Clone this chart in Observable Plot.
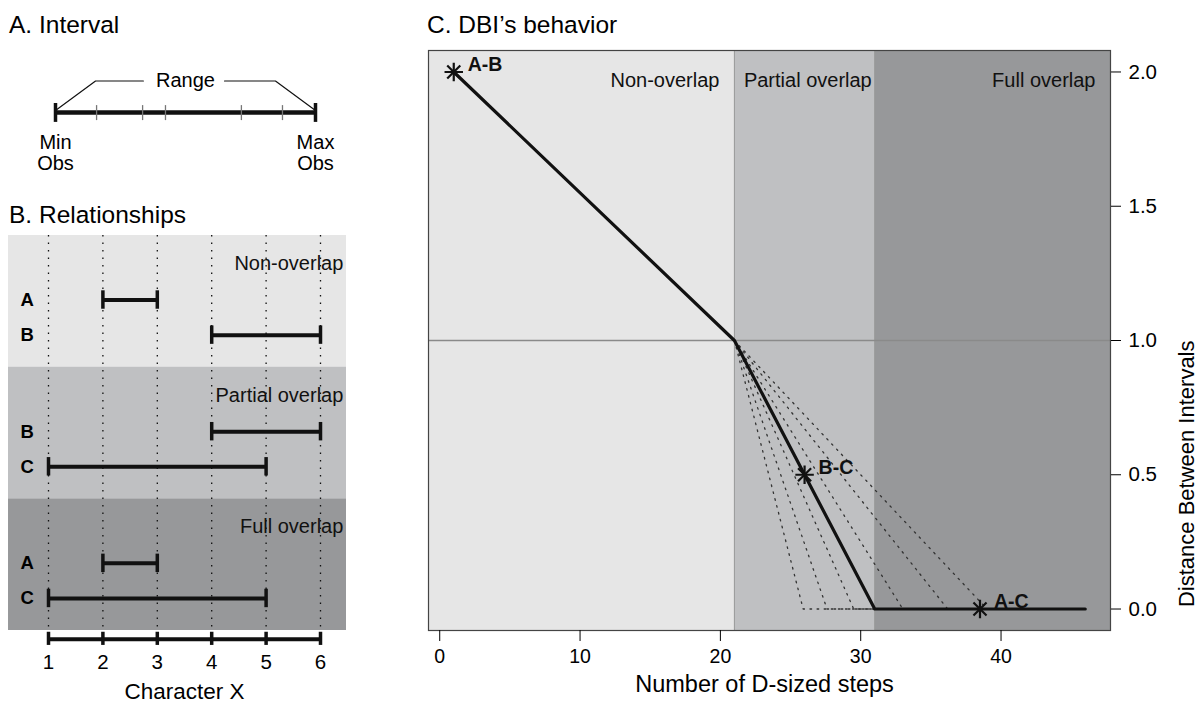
<!DOCTYPE html>
<html><head><meta charset="utf-8">
<script src="https://cdn.jsdelivr.net/npm/d3@7"></script>
<script src="https://cdn.jsdelivr.net/npm/@observablehq/plot@0.6"></script>
<style>
body{margin:0;background:#fff;}
#fig{position:relative;width:1201px;height:703px;font-family:"Liberation Sans",Arial,Helvetica,sans-serif;color:#000;overflow:hidden;background:#fff}
.t{position:absolute;font-size:24.5px;line-height:24px;white-space:nowrap}
.p{position:absolute}
</style></head><body>
<div id="fig">
  <div class="t" style="left:9px;top:13px">A. Interval</div>
  <div class="t" style="left:9px;top:203px">B. Relationships</div>
  <div class="t" style="left:427px;top:13px">C. DBI’s behavior</div>
  <div class="p" id="pa" style="left:0;top:40px"></div>
  <div class="p" id="pb" style="left:0;top:230px"></div>
  <div class="p" id="pc" style="left:400px;top:40px"></div>
</div>
<script>
// ---------- Panel A data ----------
const obsValues = [0, 1.58, 3.35, 4.23, 7.15, 8.73, 10];
const endLabels = ["Min\nObs", "Max\nObs"];
const rangeLabel = "Range";

// ---------- Panel B data ----------
const charTicks = [1, 2, 3, 4, 5, 6];
const intervalNames = ["A", "B", "C"];
const intervalMin = [2, 4, 1];
const intervalMax = [3, 6, 5];
const relations = ["Non-overlap", "Partial overlap", "Full overlap"];
const relationPairs = [["A", "B"], ["B", "C"], ["A", "C"]];
const shades = ["#e6e6e6", "#bfc0c2", "#97989a"];

// ---------- Panel C data ----------
const regionBreaks = [21, 31];
const stepsX = [1, 21, 31, 46];
const dbiY = [2, 1, 0, 0];
const pairLabels = ["A-B", "B-C", "A-C"];
const pairSteps = [1, 26, 38.5];
const pairDbi = [2, 0.5, 0];
const altEnds = [25.9, 27.6, 29.5, 33.0, 36.2, 39.0];
const xTicks = [0, 10, 20, 30, 40];
const yTicks = [0, 0.5, 1, 1.5, 2];
const xTitle = "Number of D-sized steps";
const yTitle = "Distance Between Intervals";

const FONT = '"Liberation Sans", Arial, Helvetica, sans-serif';
const baseStyle = {fontFamily: FONT, background: "none", overflow: "visible", color: "#000"};

// ================= Panel A =================
{
  const lo = d3.min(obsValues), hi = d3.max(obsValues), mid = (lo + hi) / 2;
  const top = 1.05, foot = 0.07;
  const leftBracket = [{x: lo, y: foot}, {x: lo + 1.54, y: top}, {x: mid - 1.62, y: top}];
  const rightBracket = [{x: mid + 1.5, y: top}, {x: hi - 1.54, y: top}, {x: hi, y: foot}];
  const pa = Plot.plot({
    width: 380, height: 140, style: baseStyle,
    x: {domain: [lo, hi], range: [55, 315], axis: null},
    y: {domain: [-2, 2], range: [132, 12], axis: null},
    marks: [
      Plot.line(leftBracket, {x: "x", y: "y", stroke: "#111", strokeWidth: 1.2}),
      Plot.line(rightBracket, {x: "x", y: "y", stroke: "#111", strokeWidth: 1.2}),
      Plot.text([rangeLabel], {x: mid, y: top, text: d => d, fontSize: 20}),
      Plot.ruleY([0], {x1: lo, x2: hi, stroke: "#111", strokeWidth: 4.5}),
      Plot.ruleX(obsValues.slice(1, -1), {y1: 0.23, y2: -0.27, stroke: "#777", strokeWidth: 1.3}),
      Plot.ruleX([lo, hi], {y1: 0.3, y2: -0.33, stroke: "#111", strokeWidth: 3.5}),
      Plot.text(endLabels, {x: [lo, hi], y: -1.35, text: d => d, fontSize: 20, lineHeight: 1.05})
    ]
  });
  document.getElementById("pa").append(pa);
}

// ================= Panel B =================
{
  const bandH = 3;
  const bands = relations.map((r, i) => ({r, y1: i * bandH, y2: (i + 1) * bandH, fill: shades[i]}));
  const rows = relations.flatMap((r, i) => relationPairs[i].map((n, j) => {
    const k = intervalNames.indexOf(n);
    return {n, lo: intervalMin[k], hi: intervalMax[k], y: i * bandH + 1.47 + j * 0.8};
  }));
  const caps = rows.flatMap(d => [{x: d.lo, y: d.y}, {x: d.hi, y: d.y}]);
  const axisY = 9.2;
  const pb = Plot.plot({
    width: 380, height: 473, style: baseStyle,
    x: {domain: [1, 6], range: [48, 320], axis: null},
    y: {domain: [0, 9], range: [5, 400], axis: null},
    color: {type: "identity"},
    marks: [
      Plot.rect(bands, {x1: 0.265, x2: 6.478, y1: "y1", y2: "y2", fill: "fill"}),
      Plot.ruleX(charTicks, {y1: 0, y2: 9, stroke: "#111", strokeWidth: 1.3, strokeDasharray: "1.5,6"}),
      Plot.ruleY(rows, {x1: "lo", x2: "hi", y: "y", stroke: "#111", strokeWidth: 4}),
      Plot.ruleX(caps, {x: "x", y1: d => d.y - 0.21, y2: d => d.y + 0.21, stroke: "#111", strokeWidth: 3.5}),
      Plot.text(rows, {x: 0.61, y: "y", text: "n", fontWeight: "bold", fontSize: 18.5}),
      Plot.text(bands, {x: 6.42, y: d => d.y1 + 0.64, text: "r", textAnchor: "end", fontSize: 20, fill: "#111"}),
      Plot.ruleY([axisY], {x1: d3.min(charTicks), x2: d3.max(charTicks), stroke: "#111", strokeWidth: 4}),
      Plot.ruleX(charTicks, {y1: axisY - 0.16, y2: axisY + 0.14, stroke: "#111", strokeWidth: 3.5}),
      Plot.text(charTicks, {x: d => d, y: axisY, dy: 23, text: d => String(d), fontSize: 20.5}),
      Plot.text(["Character X"], {x: d3.mean(d3.extent(charTicks)), y: axisY, dy: 53, text: d => d, fontSize: 22.5})
    ]
  });
  document.getElementById("pb").append(pb);
}

// ================= Panel C =================
{
  const xDomain = [-0.8, 47.8], yDomain = [-0.08, 2.08];
  const W = 801, H = 663, mL = 28, mR = 91, mT = 10, mB = 73;
  const pxPerUnit = (W - mL - mR) / (xDomain[1] - xDomain[0]);
  const edges = [xDomain[0], ...regionBreaks, xDomain[1]];
  const labelInset = [15, 3, 15];
  const regions = relations.map((r, i) => ({r, x1: edges[i], x2: edges[i + 1], fill: shades[i], lx: edges[i + 1] - labelInset[i] / pxPerUnit}));
  const fork = {x: stepsX[1], y: dbiY[1]}, join = stepsX[2];
  const alt = altEnds.flatMap((e, i) => e < join
    ? [{i, x: fork.x, y: fork.y}, {i, x: e, y: 0}, {i, x: join, y: 0}]
    : [{i, x: fork.x, y: fork.y}, {i, x: e, y: 0}]);
  const main = stepsX.map((x, i) => ({x, y: dbiY[i]}));
  const pairs = pairLabels.map((l, i) => ({l, x: pairSteps[i], y: pairDbi[i]}));
  const pc = Plot.plot({
    width: W, height: H, marginLeft: mL, marginRight: mR, marginTop: mT, marginBottom: mB,
    style: baseStyle,
    x: {domain: xDomain, axis: null},
    y: {domain: yDomain, axis: null},
    color: {type: "identity"},
    marks: [
      Plot.rect(regions, {x1: "x1", x2: "x2", fill: "fill"}),
      Plot.ruleX(regionBreaks, {stroke: "#9a9a9a", strokeWidth: 1}),
      Plot.ruleY([fork.y], {stroke: "#8a8a8a", strokeWidth: 1.5}),
      Plot.line(alt, {x: "x", y: "y", z: "i", stroke: "#333", strokeWidth: 1.3, strokeDasharray: "1.6,5.5"}),
      Plot.line(main, {x: "x", y: "y", stroke: "#111", strokeWidth: 3.2}),
      Plot.dot(pairs, {x: "x", y: "y", symbol: "plus", r: 6, stroke: "#111", strokeWidth: 2.2}),
      Plot.dot(pairs, {x: "x", y: "y", symbol: "times", r: 6, stroke: "#111", strokeWidth: 2.2}),
      Plot.text(pairs, {x: "x", y: "y", text: "l", dx: 14, dy: -7, textAnchor: "start", fontWeight: "bold", fontSize: 19.5, fill: "#111"}),
      Plot.text(regions, {x: "lx", frameAnchor: "top", dy: 22, text: "r", textAnchor: "end", fontSize: 20, fill: "#111"}),
      Plot.frame({stroke: "#444", strokeWidth: 1.2}),
      Plot.axisX(xTicks, {tickSize: 11, tickPadding: 8, fontSize: 19.5, label: null}),
      Plot.axisY(yTicks, {anchor: "right", tickSize: 10, tickPadding: 8, fontSize: 20.5, tickFormat: d3.format(".1f"), label: null}),
      Plot.text([xTitle], {frameAnchor: "bottom", dx: -5, dy: 61, text: d => d, fontSize: 23.5}),
      Plot.text([yTitle], {frameAnchor: "right", dx: 76, rotate: -90, text: d => d, fontSize: 22})
    ]
  });
  document.getElementById("pc").append(pc);
}
</script>
</body></html>
